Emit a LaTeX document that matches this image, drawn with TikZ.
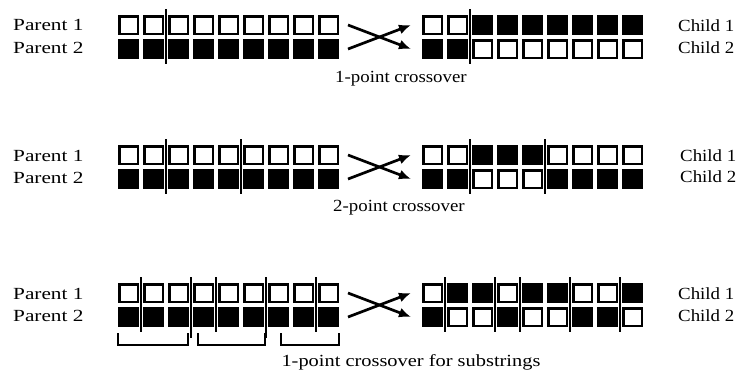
\documentclass[tikz,border=0pt]{standalone}
\usepackage{fontspec}
\usepackage{graphicx}
\setmainfont{Liberation Serif}
\usetikzlibrary{arrows.meta}
\newcommand\sqrow[5]{%
  \foreach \c [count=\i from 0] in {#5} {%
    \ifnum\c=1 \def\fc{black}\else\def\fc{white}\fi
    \node[sq,fill=\fc] (#1-\i) at ({#2+#3*\i},#4) {};
  }%
}
\begin{document}
\begin{tikzpicture}[x=1pt,y=-1pt,
  sq/.style={draw=black,line width=2.5pt,minimum width=18.5pt,minimum height=17.5pt,inner sep=0pt,outer sep=0pt},
  cutline/.style={line width=1.4pt},
  sepline/.style={line width=2.2pt},
  xarrow/.style={line width=2.7pt,-{Latex[length=12pt,width=10pt]}},
  lbl/.style={font=\fontsize{17}{20}\selectfont,inner sep=0pt},
  bracket/.style={line width=1.8pt}
]
\useasboundingbox[fill=white] (0,0) rectangle (754,384);

% ---------- Row 1: 1-point crossover ----------
\sqrow{r1p1}{128.5}{25}{25}{0,0,0,0,0,0,0,0,0}
\sqrow{r1p2}{128.5}{25}{49}{1,1,1,1,1,1,1,1,1}
\sqrow{r1c1}{432.5}{25}{25}{0,0,1,1,1,1,1,1,1}
\sqrow{r1c2}{432.5}{25}{49}{1,1,0,0,0,0,0,0,0}
\coordinate (r1ct) at (166,9); \coordinate (r1cb) at (166,64);
\draw[cutline] (r1ct) -- (r1cb);
\coordinate (r1dt) at (470,9); \coordinate (r1db) at (470,64);
\draw[cutline] (r1dt) -- (r1db);
\coordinate (r1tl) at (348,25); \coordinate (r1bl) at (348,49);
\coordinate (r1tr) at (411,25); \coordinate (r1br) at (411,49);
\draw[xarrow] (r1tl) -- (r1br);
\draw[xarrow] (r1bl) -- (r1tr);
\node[lbl,anchor=west] (r1lp1) at (13,25) {\scalebox{1.25}[1]{Parent 1}};
\node[lbl,anchor=west] (r1lp2) at (13,48) {\scalebox{1.25}[1]{Parent 2}};
\node[lbl,anchor=west] (r1lc1) at (678,26) {\scalebox{1.11}[1]{Child 1}};
\node[lbl,anchor=west] (r1lc2) at (678,48) {\scalebox{1.11}[1]{Child 2}};
\node[lbl] (r1lab) at (401,79) {\scalebox{1.11}[1]{1-point crossover}};

% ---------- Row 2: 2-point crossover ----------
\sqrow{r2p1}{128.5}{25}{155}{0,0,0,0,0,0,0,0,0}
\sqrow{r2p2}{128.5}{25}{179}{1,1,1,1,1,1,1,1,1}
\sqrow{r2c1}{432.5}{25}{155}{0,0,1,1,1,0,0,0,0}
\sqrow{r2c2}{432.5}{25}{179}{1,1,0,0,0,1,1,1,1}
\coordinate (r2ct1) at (166,139); \coordinate (r2cb1) at (166,194);
\coordinate (r2ct2) at (241,139); \coordinate (r2cb2) at (241,194);
\draw[cutline] (r2ct1) -- (r2cb1);
\draw[cutline] (r2ct2) -- (r2cb2);
\coordinate (r2dt1) at (470,139); \coordinate (r2db1) at (470,194);
\coordinate (r2dt2) at (545,139); \coordinate (r2db2) at (545,194);
\draw[cutline] (r2dt1) -- (r2db1);
\draw[cutline] (r2dt2) -- (r2db2);
\coordinate (r2tl) at (348,155); \coordinate (r2bl) at (348,179);
\coordinate (r2tr) at (411,155); \coordinate (r2br) at (411,179);
\draw[xarrow] (r2tl) -- (r2br);
\draw[xarrow] (r2bl) -- (r2tr);
\node[lbl,anchor=west] (r2lp1) at (13,156) {\scalebox{1.25}[1]{Parent 1}};
\node[lbl,anchor=west] (r2lp2) at (13,178) {\scalebox{1.25}[1]{Parent 2}};
\node[lbl,anchor=west] (r2lc1) at (680,156) {\scalebox{1.11}[1]{Child 1}};
\node[lbl,anchor=west] (r2lc2) at (680,177) {\scalebox{1.11}[1]{Child 2}};
\node[lbl] (r2lab) at (399,208) {\scalebox{1.11}[1]{2-point crossover}};

% ---------- Row 3: 1-point crossover for substrings ----------
\sqrow{r3p1}{128.5}{25}{293}{0,0,0,0,0,0,0,0,0}
\sqrow{r3p2}{128.5}{25}{317}{1,1,1,1,1,1,1,1,1}
\sqrow{r3c1}{432.5}{25}{293}{0,1,1,0,1,1,0,0,1}
\sqrow{r3c2}{432.5}{25}{317}{1,0,0,1,0,0,1,1,0}
% parent cut and separator lines
\foreach \xx [count=\k] in {141,216,316} {
  \coordinate (r3pct\k) at (\xx,277); \coordinate (r3pcb\k) at (\xx,332);
  \draw[cutline] (r3pct\k) -- (r3pcb\k);
}
\foreach \xx [count=\k] in {191,266} {
  \coordinate (r3pst\k) at (\xx,277); \coordinate (r3psb\k) at (\xx,338);
  \draw[sepline] (r3pst\k) -- (r3psb\k);
}
% child cut and separator lines
\foreach \xx [count=\k] in {445,520,620} {
  \coordinate (r3cct\k) at (\xx,277); \coordinate (r3ccb\k) at (\xx,332);
  \draw[cutline] (r3cct\k) -- (r3ccb\k);
}
\foreach \xx [count=\k] in {495,570} {
  \coordinate (r3cst\k) at (\xx,277); \coordinate (r3csb\k) at (\xx,332);
  \draw[sepline] (r3cst\k) -- (r3csb\k);
}
% brackets under parent 2
\draw[bracket] (118,333) -- (118,345) -- (188,345) -- (188,333);
\draw[bracket] (198,333) -- (198,345) -- (265,345) -- (265,333);
\draw[bracket] (281,333) -- (281,345) -- (339,345) -- (339,333);
\coordinate (r3tl) at (348,293); \coordinate (r3bl) at (348,317);
\coordinate (r3tr) at (411,293); \coordinate (r3br) at (411,317);
\draw[xarrow] (r3tl) -- (r3br);
\draw[xarrow] (r3bl) -- (r3tr);
\node[lbl,anchor=west] (r3lp1) at (13,294) {\scalebox{1.25}[1]{Parent 1}};
\node[lbl,anchor=west] (r3lp2) at (13,316) {\scalebox{1.25}[1]{Parent 2}};
\node[lbl,anchor=west] (r3lc1) at (678,294) {\scalebox{1.11}[1]{Child 1}};
\node[lbl,anchor=west] (r3lc2) at (678,316) {\scalebox{1.11}[1]{Child 2}};
\node[lbl] (r3lab) at (411,362) {\scalebox{1.2}[1]{1-point crossover for substrings}};
\end{tikzpicture}
\end{document}
